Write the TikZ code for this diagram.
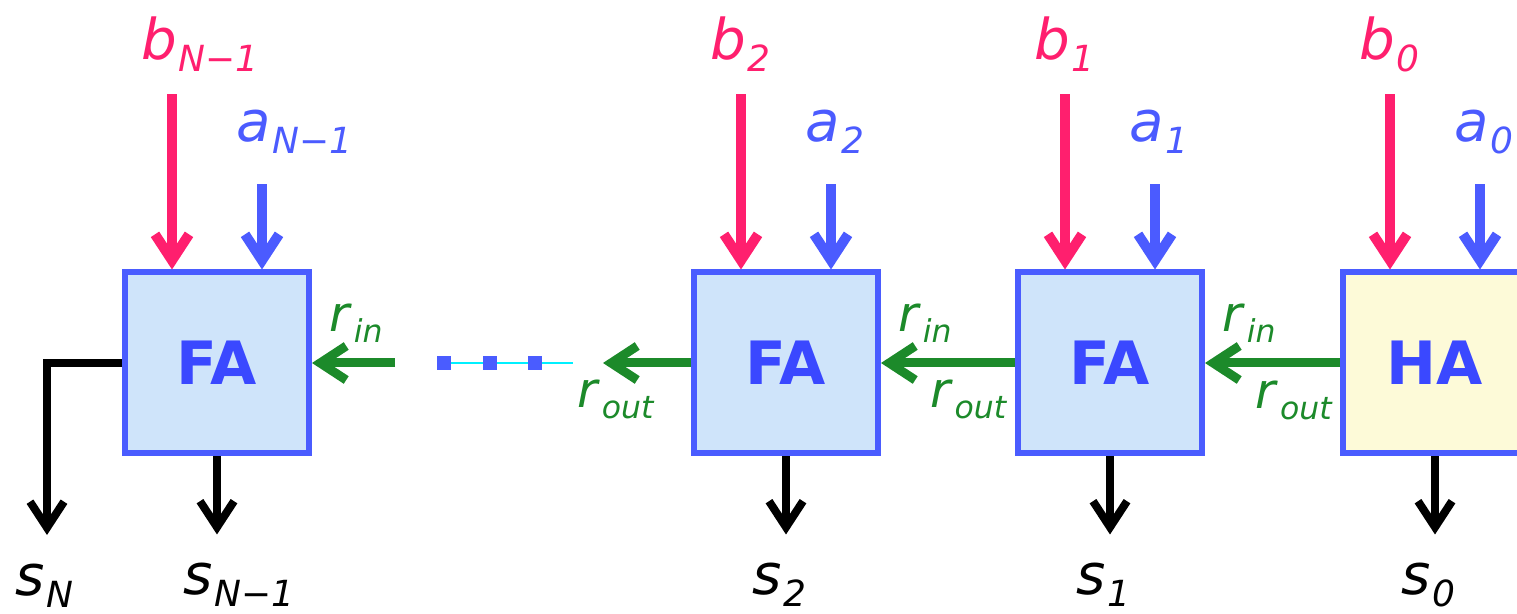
\documentclass[tikz,border=0pt]{standalone}
\usepackage{fontspec}
\setmainfont{DejaVu Sans}
\usetikzlibrary{arrows.meta,calc,backgrounds}
\definecolor{inb}{HTML}{FF1F6E}
\definecolor{ina}{HTML}{4B5BFF}
\definecolor{edge}{HTML}{4A5CFF}
\definecolor{fafill}{HTML}{CFE4FA}
\definecolor{hafill}{HTML}{FDFAD8}
\definecolor{boxtxt}{HTML}{3A48FF}
\definecolor{carry}{HTML}{1C8A2A}
\definecolor{cyanline}{HTML}{00F0FF}
\tikzset{
  blk/.style={draw=edge, line width=0.12cm, fill=fafill, minimum width=3.68cm, minimum height=3.62cm,
              inner sep=0pt, font=\fontsize{34}{36}\selectfont\bfseries, text=boxtxt},
  hablk/.style={blk, fill=hafill},
  sig/.style={inner sep=0pt, font=\fontsize{32}{36}\selectfont},
  carlbl/.style={inner sep=0pt, font=\fontsize{28}{32}\selectfont, text=carry},
  tip/.style={-{Straight Barb[length=0.52cm,width=0.68cm]}},
  barr/.style={tip, line width=0.2cm, draw=inb},
  aarr/.style={tip, line width=0.2cm, draw=ina},
  sarr/.style={tip, line width=0.16cm, draw=black},
  carr/.style={tip, line width=0.18cm, draw=carry},
  dotsq/.style={fill=edge, minimum size=0.28cm, inner sep=0pt},
  dotline/.style={draw=cyanline, line width=0.05cm},
}
\newcommand{\bitlbl}[2]{\textit{#1}\kern1pt\raisebox{-0.22em}{\scalebox{0.64}{\textit{#2}}}}

\begin{document}
\begin{tikzpicture}
\clip (0,0) rectangle (30.34,-12.28);
% ---- adder blocks ----
\node[blk]   (fa1) at (4.34,-7.26)  {FA};
\node[blk]   (fa2) at (15.72,-7.26) {FA};
\node[blk]   (fa3) at (22.2,-7.26)  {FA};
\node[hablk] (ha)  at (28.7,-7.26)  {HA};
% ---- operand inputs and sum outputs ----
\foreach \blk/\idx in {fa1/N−1, fa2/2, fa3/1, ha/0}{
  \coordinate (b\blk) at ($(\blk.north)+(-0.9,3.5)$);
  \coordinate (a\blk) at ($(\blk.north)+(0.9,1.7)$);
  \coordinate (s\blk) at ($(\blk.south)+(0,-1.56)$);
  \node[sig, text=inb, anchor=base west] (lb\blk) at ($(b\blk)+(-0.62,0.7)$)  {\bitlbl{b}{\idx}};
  \node[sig, text=ina, anchor=base west] (la\blk) at ($(a\blk)+(-0.52,0.86)$) {\bitlbl{a}{\idx}};
  \node[sig, anchor=base west] (ls\blk) at ($(s\blk)+(-0.68,-1.2)$) {\bitlbl{s}{\idx}};
  \draw[barr] (b\blk) -- (b\blk |- \blk.north);
  \draw[aarr] (a\blk) -- (a\blk |- \blk.north);
  \draw[sarr] (\blk.south) -- (s\blk);
}
% ---- final carry out ----
\coordinate (sN) at (0.94,-10.7);
\draw[sarr] (fa1.west) -| (sN);
\node[sig, anchor=base west] (lsN) at ($(sN)+(-0.64,-1.2)$) {\bitlbl{s}{N}};
% ---- carry chain ----
\draw[carr] (ha.west) -- (fa3.east);
\draw[carr] (fa3.west) -- (fa2.east);
\coordinate (cout2) at (12.06,-7.26);
\draw[carr] (fa2.west) -- (cout2);
\coordinate (cin1) at (7.9,-7.26);
\draw[carr] (cin1) -- (fa1.east);
\foreach \blk in {fa1,fa2,fa3}{
  \node[carlbl, anchor=base west] (rin\blk) at ($(\blk.east)+(0.34,0.62)$) {\bitlbl{r}{in}};
}
\node[carlbl, anchor=base east] (routfa3) at ($(fa3.west)+(-0.15,-0.9)$) {\bitlbl{r}{out}};
\node[carlbl, anchor=base east] (routha)  at ($(ha.west)+(-0.14,-0.92)$) {\bitlbl{r}{out}};
\node[carlbl, anchor=base west] (routfa2) at (11.54,-8.15) {\bitlbl{r}{out}};
% ---- ellipsis ----
\node[dotsq] (d1) at (8.88,-7.26) {};
\node[dotsq] (d2) at (9.8,-7.26)  {};
\node[dotsq] (d3) at (10.7,-7.26) {};
\coordinate (dend) at (11.46,-7.26);
\begin{scope}[on background layer]\draw[dotline] (d1) -- (dend);\end{scope}
\end{tikzpicture}
\end{document}
